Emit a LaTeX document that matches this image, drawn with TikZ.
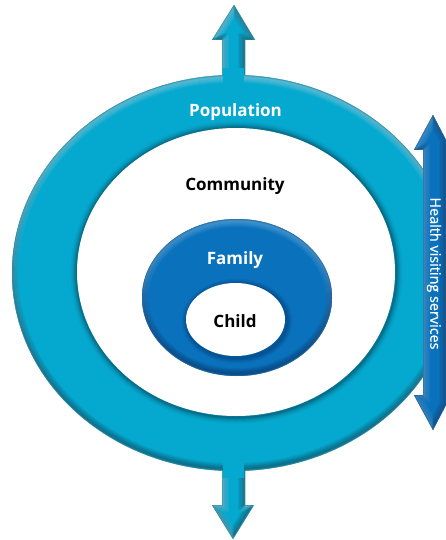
\documentclass[tikz,border=0pt]{standalone}
\usepackage{fontspec}
\setmainfont{Open Sans}
\newfontfamily\hvfont[FakeBold=0.5]{Open Sans}
\definecolor{teal1}{HTML}{05A8CE}
\definecolor{tealdark}{HTML}{06566E}
\definecolor{blue1}{HTML}{0A72BC}
\definecolor{bluedark}{HTML}{063A70}
\definecolor{bluelight}{HTML}{5AA6DA}
\definecolor{teallight}{HTML}{7CCBE0}
\tikzset{
  lbl/.style={font=\bfseries\fontsize{17pt}{19pt}\selectfont, inner sep=0pt},
  wlbl/.style={lbl, text=white},
  klbl/.style={lbl, text=black},
}
% \bevel{path}{base}{dark}{light}{dx}{dy}: base fill, inner shadow offset to give a bevel
\newcommand{\bevel}[6]{%
  \fill[#2] #1;
  \begin{scope}
    \clip #1;
    \foreach \w/\o in {12/.10,10/.12,8/.14,6/.18,4/.22,2/.3}{
      \draw[#4, line width=\w pt, opacity=\o, shift={(-#5,-#6)}] #1;
      \draw[#3, line width=\w pt, opacity=\o, shift={(#5,#6)}] #1;
    }
  \end{scope}}
\begin{document}
\begin{tikzpicture}[x=1pt,y=-1pt]
\useasboundingbox (0,0) rectangle (446,540);
\fill[white] (0,0) rectangle (446,540);
% population arrows
\bevel{(222,90) -- (222,40) -- (212,40) -- (234,5) -- (255,40) -- (245,40) -- (245,90) -- cycle}{teal1}{tealdark}{teallight}{-1}{-1}
\bevel{(222,450) -- (222,505) -- (212,505) -- (233,539) -- (254,505) -- (245,505) -- (245,450) -- cycle}{teal1}{tealdark}{teallight}{-1}{-1}
% outer ring
\begin{scope}
  \clip (0,0) rectangle (424,540);
  \bevel{(234,273) ellipse [x radius=222, y radius=198]}{teal1}{tealdark}{teallight}{0}{-2}
\end{scope}
% joins of the arrows into the ring
\fill[teal1] (223,68) rectangle (244,86);
\fill[teal1] (223,460) rectangle (244,478);
% white community ellipse with shadow
\foreach \w/\o in {12/.08,9/.1,7/.13,5/.18,3/.25,1.5/.3}{
  \draw[tealdark, line width=\w pt, opacity=\o] (236.5,272.5) ellipse [x radius=160, y radius=145];
}
\fill[white] (236,272) ellipse [x radius=159, y radius=144];
% family
\bevel{(237,297.5) ellipse [x radius=95, y radius=78.5]}{blue1}{bluedark}{bluelight}{0}{-2}
% child with shadow
\begin{scope}
  \clip (237,297.5) ellipse [x radius=95, y radius=78.5];
  \foreach \w/\o in {11/.08,9/.1,7/.12,5/.16,3/.2}{
    \draw[bluedark, line width=\w pt, opacity=\o] (237,321) ellipse [x radius=50, y radius=37];
  }
\end{scope}
\fill[white] (235.5,319.5) ellipse [x radius=49.5, y radius=36.5];
% services arrow
\bevel{(423,150) -- (414,150) -- (433,115) -- (446,140) -- (446,405) -- (433,430) -- (414,395) -- (423,395) -- cycle}{blue1}{bluedark}{bluelight}{-1}{-.5}
% labels
\node[wlbl] (pop) at (235.5,112) {Population};
\node[klbl] (com) at (235,186) {Community};
\node[wlbl] (fam) at (235,260) {Family};
\node[klbl] (chi) at (235,321) {Child};
\node[wlbl, rotate=-90, font=\hvfont\fontsize{14.4pt}{16pt}\selectfont] (hvs) at (434,273.5) {Health visiting services};
\end{tikzpicture}
\end{document}
